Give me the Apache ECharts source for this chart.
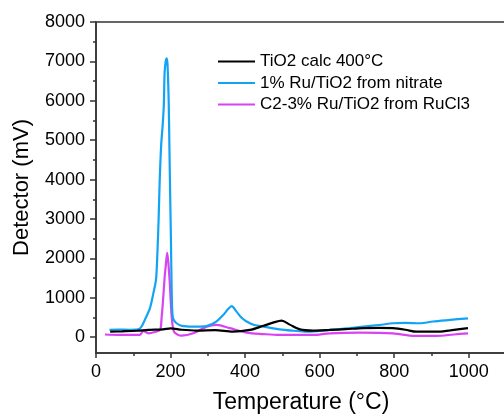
<!DOCTYPE html>
<html>
<head>
<meta charset="utf-8">
<script src="https://cdn.jsdelivr.net/npm/echarts@6/dist/echarts.min.js"></script>
<style>
  html, body { margin: 0; padding: 0; background: #fff; }
  #chart { width: 504px; height: 414px; }
</style>
</head>
<body>
<div id="chart"></div>
<script>
// 各曲线数据 [温度 °C, 信号 mV]
const tio2Calc = [
  [38, 140], [70, 150], [110, 165], [140, 185], [180, 200], [200, 225], [230, 190],
  [270, 170], [320, 180], [367, 140], [413, 185], [449, 290], [475, 370], [498, 420],
  [520, 320], [547, 200], [582, 170], [627, 185], [670, 205], [717, 230], [760, 240],
  [797, 230], [830, 190], [860, 140], [913, 140], [950, 175], [998, 230]
]
const ruNitrate = [
  [36, 190], [60, 195], [90, 190], [113, 200], [122, 270], [131, 440], [145, 745],
  [154, 1120], [161, 1460], [165, 2200], [168, 3000], [171, 4000], [175, 4900],
  [179, 5400], [182, 5900], [184, 6700], [187, 7000], [190, 7080], [192, 6900],
  [195, 6000], [197, 4800], [199, 3600], [201, 2500], [203, 1200], [205, 600],
  [208, 450], [216, 355], [230, 290], [260, 270], [290, 275], [320, 380], [340, 550],
  [355, 720], [364, 790], [377, 650], [390, 500], [404, 400], [425, 310], [449, 270],
  [493, 200], [530, 165], [565, 140], [600, 160], [627, 185], [680, 230], [717, 270],
  [760, 310], [797, 355], [830, 365], [869, 355], [904, 400], [950, 440], [998, 480]
]
const ruCl3 = [
  [24, 70], [60, 60], [100, 60], [118, 60], [127, 160], [141, 100], [160, 140],
  [172, 185], [176, 500], [180, 950], [184, 1500], [187, 1800], [191, 2140],
  [194, 1900], [198, 1375], [203, 525], [209, 140], [220, 60], [230, 40], [261, 100],
  [297, 270], [324, 313], [359, 230], [404, 118], [450, 80], [493, 58], [582, 58],
  [627, 100], [708, 118], [797, 100], [855, 33], [913, 33], [960, 70], [998, 100]
]
const seriesNames = ['TiO2 calc 400°C', '1% Ru/TiO2 from nitrate', 'C2-3% Ru/TiO2 from RuCl3']
const seriesColors = ['#000000', '#12a4f4', '#d843f2']

// 刻度
const xLabels = [0, 200, 400, 600, 800, 1000]
const xMinorTicks = [100, 300, 500, 700, 900, 1100]
const yLabels = [0, 1000, 2000, 3000, 4000, 5000, 6000, 7000, 8000]
const yMinorTicks = [500, 1500, 2500, 3500, 4500, 5500, 6500, 7500]

const chart = echarts.init(document.getElementById('chart'), null, { renderer: 'canvas' })

const axisColor = '#333'
const fontFamily = '"Liberation Sans", Arial, sans-serif'
const plain = v => String(v)

chart.setOption({
  backgroundColor: '#fff',
  animation: false,
  textStyle: { fontFamily: fontFamily },
  grid: {
    left: 96, top: 22, right: -2, bottom: 61,
    outerBoundsMode: 'none', // v6 默认会收缩网格，这里固定位置
    show: true, borderColor: axisColor, borderWidth: 1.5, backgroundColor: 'transparent'
  },
  legend: {
    orient: 'vertical',
    left: 218, top: 53, padding: 0,
    itemWidth: 37, itemHeight: 17, itemGap: 4.5,
    icon: 'path://M0,6h37v2h-37z',
    textStyle: { fontSize: 17, color: '#000', fontFamily: fontFamily },
    data: seriesNames.map((n, i) => ({ name: n, itemStyle: { color: seriesColors[i] } }))
  },
  xAxis: [
    {
      type: 'value', min: 0, max: 1100,
      name: 'Temperature (°C)', nameLocation: 'middle', nameGap: 38,
      nameTextStyle: { fontSize: 23, color: '#000' },
      splitLine: { show: false },
      axisLine: { show: true, onZero: false, lineStyle: { color: axisColor, width: 1.5 } },
      axisTick: { show: true, customValues: xLabels, length: 5, lineStyle: { color: axisColor, width: 1.5 } },
      axisLabel: { customValues: xLabels, formatter: plain, fontSize: 18, color: '#000', margin: 10 }
    },
    {
      type: 'value', min: 0, max: 1100, position: 'bottom',
      splitLine: { show: false },
      axisLine: { show: false, onZero: false },
      axisTick: { show: true, customValues: xMinorTicks, length: 3, lineStyle: { color: axisColor, width: 1.5 } },
      axisLabel: { show: false }
    }
  ],
  yAxis: [
    {
      type: 'value', min: -400, max: 8000,
      name: 'Detector (mV)', nameLocation: 'middle', nameGap: 63, nameRotate: 90,
      nameTextStyle: { fontSize: 22, color: '#000' },
      splitLine: { show: false },
      axisLine: { show: true, onZero: false, lineStyle: { color: axisColor, width: 1.5 } },
      axisTick: { show: true, customValues: yLabels, length: 6, lineStyle: { color: axisColor, width: 1.5 } },
      axisLabel: { customValues: yLabels, formatter: plain, fontSize: 18, color: '#000', margin: 11 }
    },
    {
      type: 'value', min: -400, max: 8000, position: 'left',
      splitLine: { show: false },
      axisLine: { show: false, onZero: false },
      axisTick: { show: true, customValues: yMinorTicks, length: 3, lineStyle: { color: axisColor, width: 1.5 } },
      axisLabel: { show: false }
    }
  ],
  series: [tio2Calc, ruNitrate, ruCl3].map((d, i) => ({
    name: seriesNames[i],
    type: 'line',
    data: d,
    showSymbol: false,
    symbol: 'none',
    smooth: 0.3,
    z: 3 - i,
    lineStyle: { color: seriesColors[i], width: 2.2 },
    itemStyle: { color: seriesColors[i] }
  }))
})
</script>
</body>
</html>
